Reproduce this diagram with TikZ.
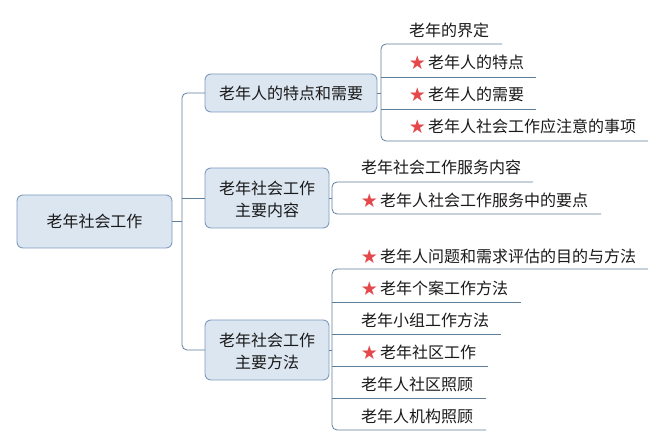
\documentclass[tikz,border=0pt]{standalone}
\usepackage{fontspec}
\setmainfont{Noto Sans CJK SC}
\newfontfamily\symfont{DejaVu Sans}
\usetikzlibrary{positioning}
\definecolor{boxfill}{HTML}{DCE6F1}
\definecolor{boxdraw}{HTML}{7F9CBE}
\definecolor{linec}{HTML}{5F7E9C}
\definecolor{starc}{HTML}{E5484A}
\definecolor{txt}{HTML}{1A1A1A}
\tikzset{
  box/.style={draw=boxdraw, fill=boxfill, rounded corners=6pt, line width=0.9pt},
  lbl/.style={font=\fontsize{16}{22}\selectfont, text=txt, inner sep=0pt, align=center},
  leaf/.style={font=\fontsize{16}{22}\selectfont, text=txt, inner sep=0pt, anchor=west},
  strnode/.style={font=\symfont\fontsize{19}{19}\selectfont, text=starc, inner sep=0pt},
  conn/.style={draw=linec, line width=0.8pt, rounded corners=5pt},
}
\begin{document}
\begin{tikzpicture}[x=1pt,y=-1pt]
\useasboundingbox[fill=white] (0,0) rectangle (665,446);
% boxes
\draw[box] (17,195) rectangle (172,248);
\node[lbl] (root) at (94.5,221.5) {老年社会工作};
\draw[box] (205,74) rectangle (377,112);
\node[lbl] (b1) at (291,93) {老年人的特点和需要};
\draw[box] (205,168) rectangle (329,228);
\node[lbl] (b2) at (267,199) {老年社会工作\\主要内容};
\draw[box] (205,320) rectangle (329,380);
\node[lbl] (b3) at (267,351) {老年社会工作\\主要方法};
% coordinates
\coordinate (rootE) at (172,221);
\coordinate (b1W) at (205,93);
\coordinate (b2W) at (205,198);
\coordinate (b3W) at (205,350);
\coordinate (b1E) at (377,93);
\coordinate (b2E) at (329,198);
\coordinate (b3E) at (329,350);
% trunk
\draw[conn] (b1W) -- (182,93) -- (182,350) -- (b3W);
\draw[conn] (rootE) -- (182,221);
\draw[conn] (182,198) -- (b2W);
% group 1
\draw[conn] (502,44) -- (381,44) -- (381,141) -- (648,141);
\draw[conn] (381,77) -- (536,77);
\draw[conn] (381,109) -- (536,109);
\draw[conn] (b1E) -- (381,93);
\node[leaf] (l11) at (409,30) {老年的界定};
\node[strnode] (s12) at (417.5,62.5) {★};
\node[leaf] (l12) at (428,62) {老年人的特点};
\node[strnode] (s13) at (417.5,95) {★};
\node[leaf] (l13) at (428,94.5) {老年人的需要};
\node[strnode] (s14) at (417.5,127) {★};
\node[leaf] (l14) at (428,126.5) {老年人社会工作应注意的事项};
% group 2
\draw[conn] (533,182) -- (332,182) -- (332,214) -- (601,214);
\draw[conn] (b2E) -- (332,198);
\node[leaf] (l21) at (361,167.5) {老年社会工作服务内容};
\node[strnode] (s22) at (369.5,201) {★};
\node[leaf] (l22) at (380,200.5) {老年人社会工作服务中的要点};
% group 3
\draw[conn] (648,269) -- (332,269) -- (332,430) -- (486,430);
\draw[conn] (332,302) -- (521,302);
\draw[conn] (332,334) -- (501,334);
\draw[conn] (332,366) -- (488,366);
\draw[conn] (332,398) -- (486,398);
\draw[conn] (b3E) -- (332,350);
\node[strnode] (s31) at (369.5,257) {★};
\node[leaf] (l31) at (380,256.5) {老年人问题和需求评估的目的与方法};
\node[strnode] (s32) at (369.5,288.5) {★};
\node[leaf] (l32) at (380,288) {老年个案工作方法};
\node[leaf] (l33) at (361,320) {老年小组工作方法};
\node[strnode] (s34) at (369.5,352.5) {★};
\node[leaf] (l34) at (380,352) {老年社区工作};
\node[leaf] (l35) at (361,384) {老年人社区照顾};
\node[leaf] (l36) at (361,416) {老年人机构照顾};
\end{tikzpicture}
\end{document}
